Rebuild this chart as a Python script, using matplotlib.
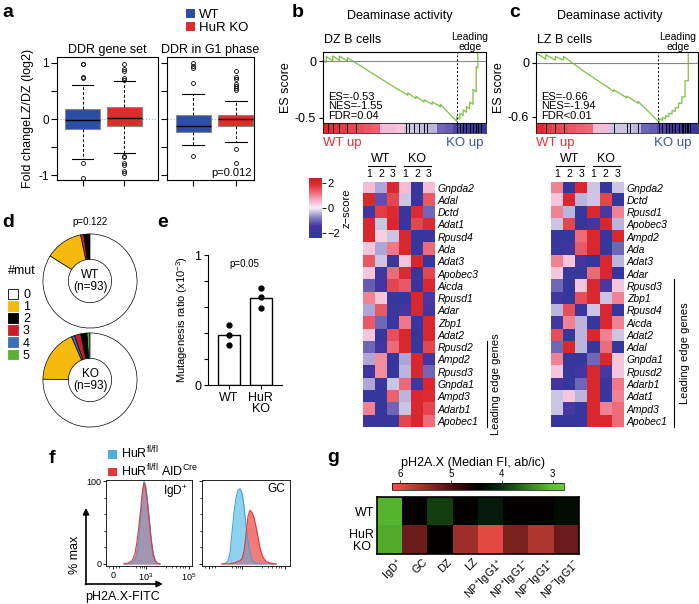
import numpy as np
import matplotlib
matplotlib.use('Agg')
import matplotlib.pyplot as plt
from matplotlib.colors import LinearSegmentedColormap
from matplotlib.patches import Patch
from matplotlib.transforms import ScaledTranslation

plt.rcParams['font.family'] = ['Liberation Sans', 'DejaVu Sans']
plt.rcParams['mathtext.fontset'] = 'custom'
plt.rcParams['mathtext.rm'] = 'Liberation Sans'
plt.rcParams['mathtext.it'] = 'Liberation Sans:italic'
plt.rcParams['mathtext.bf'] = 'Liberation Sans:bold'
plt.rcParams['font.size'] = 8
plt.rcParams['axes.linewidth'] = 0.8

W, H = 699, 604

# ---------------- data ----------------
# a: fold change LZ/DZ (box stats)
grp_names = ['WT', 'HuR KO']
grp_colors = ['#2D4EA5', '#E12A2A']
ddr_med = [-0.01, 0.01]
ddr_q1 = [-0.18, -0.12]
ddr_q3 = [0.17, 0.21]
ddr_lo = [-0.70, -0.60]
ddr_hi = [0.61, 0.67]
ddr_out = [[0.98, 0.97, 0.74, 0.72, -0.77, -1.05],
           [0.97, 0.88, 0.85, 0.72, 0.70, -0.65, -0.68, -0.78, -0.81, -0.92, -0.95]]
g1_med = [-0.12, 0.0]
g1_q1 = [-0.23, -0.12]
g1_q3 = [0.07, 0.08]
g1_lo = [-0.46, -0.40]
g1_hi = [0.45, 0.32]
g1_out = [[0.99, 0.94, 0.90, 0.64, -0.66],
          [0.86, 0.74, 0.71, 0.63, 0.59, 0.55, 0.51, -0.53, -0.77]]

# b / c: running enrichment score
esb_x = [0.00, 0.02, 0.02, 0.06, 0.06, 0.10, 0.10, 0.15, 0.15, 0.25, 0.35, 0.45,
         0.52, 0.52, 0.57, 0.57, 0.62, 0.62, 0.67, 0.67, 0.72, 0.72,
         0.82, 0.82, 0.84, 0.84, 0.86, 0.86, 0.88, 0.88, 0.90, 0.90, 0.92, 0.92, 0.94, 0.94, 0.95, 0.95]
esb_y = [0.00, -0.01, 0.04, 0.00, 0.045, 0.005, 0.045, 0.00, 0.03, -0.06, -0.15, -0.24,
         -0.30, -0.28, -0.33, -0.31, -0.36, -0.34, -0.38, -0.36, -0.40, -0.38,
         -0.53, -0.49, -0.51, -0.46, -0.48, -0.43, -0.45, -0.40, -0.42, -0.36, -0.38, -0.25, -0.27, -0.05, -0.06, 0.08]
esc_x = [0.00, 0.06, 0.06, 0.12, 0.12, 0.17, 0.17, 0.30, 0.45, 0.48, 0.48, 0.56, 0.56, 0.63, 0.63,
         0.76, 0.76, 0.78, 0.78, 0.80, 0.80, 0.82, 0.82, 0.84, 0.84, 0.86, 0.86, 0.88, 0.88,
         0.90, 0.90, 0.92, 0.92, 0.94, 0.94]
esc_y = [0.11, 0.04, 0.09, 0.03, 0.07, 0.03, 0.07, -0.10, -0.28, -0.32, -0.30, -0.39, -0.37, -0.45, -0.43,
         -0.66, -0.62, -0.64, -0.61, -0.62, -0.59, -0.60, -0.56, -0.57, -0.53, -0.54, -0.50, -0.50, -0.45,
         -0.45, -0.38, -0.38, -0.20, -0.20, 0.12]
hits_b = [0.03, 0.06, 0.10, 0.15, 0.20, 0.51, 0.53, 0.56, 0.59, 0.62, 0.64,
          0.82, 0.84, 0.86, 0.88, 0.90, 0.92, 0.94, 0.95, 0.97]
hits_c = [0.06, 0.12, 0.17, 0.48, 0.56, 0.58, 0.63, 0.76, 0.78, 0.80, 0.82, 0.84,
          0.86, 0.88, 0.90, 0.91, 0.92, 0.93, 0.94, 0.95]
strip_b = [1.9, 1.8, 1.7, 1.6, 1.5, 1.4, 1.3, 0.5, 0.5, 0.4, -0.3, -0.3, -0.35, -0.4,
           -1.0, -1.1, -1.3, -1.5, -1.7, -1.9]
strip_c = [1.9, 1.7, 1.6, 1.5, 1.4, 1.3, 1.2, 0.5, 0.5, -0.3, -0.3, -0.3, -0.4,
           -1.0, -1.1, -1.3, -1.5, -1.7, -1.8, -1.9]

reps = ['1', '2', '3', '1', '2', '3']
genes_b = ['Gnpda2', 'Adal', 'Dctd', 'Adat1', 'Rpusd4', 'Ada', 'Adat3', 'Apobec3', 'Aicda',
           'Rpusd1', 'Adar', 'Zbp1', 'Adat2', 'Rpusd2', 'Ampd2', 'Rpusd3', 'Gnpda1', 'Ampd3',
           'Adarb1', 'Apobec1']
z_b = [[0.5, -0.5, 2.0, 0.5, -2.0, 0.5],
       [2.0, -1.2, 1.6, -0.3, -2.0, 1.4],
       [-1.5, 1.7, 1.9, -2.0, 1.9, -1.0],
       [2.0, -0.3, 2.0, -2.0, 1.6, 1.9],
       [2.0, 0.3, -0.3, 2.0, -2.0, -1.8],
       [0.4, -0.5, 1.1, 2.0, -2.0, 1.2],
       [1.4, -0.3, -1.8, 0.4, 2.0, -2.0],
       [0.4, -1.5, 1.2, 1.9, -2.0, 1.6],
       [-1.1, -1.5, 1.6, 1.4, -2.0, 2.0],
       [1.0, 0.4, -1.9, -1.9, 2.0, -1.4],
       [-0.5, 1.4, -1.9, -1.5, 2.0, -1.5],
       [1.4, -1.0, -1.9, 1.1, -1.8, 2.0],
       [0.4, -2.0, 1.5, 2.0, -2.0, 2.0],
       [-1.0, -1.5, 1.2, 2.0, -2.0, 1.6],
       [-0.5, 0.9, -2.0, -0.5, 2.0, -1.5],
       [-1.6, 0.9, -2.0, -0.4, 2.0, -1.0],
       [-0.5, -2.0, -0.3, 1.2, -1.5, 2.0],
       [-2.0, -2.0, 1.3, -0.4, 2.0, 1.9],
       [1.0, -2.0, -1.0, -0.3, 2.0, 1.6],
       [-1.8, -1.8, -2.0, 1.6, 2.0, 1.2]]
genes_c = ['Gnpda2', 'Dctd', 'Rpusd1', 'Apobec3', 'Ampd2', 'Ada', 'Adat3', 'Adar', 'Rpusd3',
           'Zbp1', 'Rpusd4', 'Aicda', 'Adat2', 'Adal', 'Gnpda1', 'Rpusd2', 'Adarb1', 'Adat1',
           'Ampd3', 'Apobec1']
z_c = [[1.0, -2.0, 2.0, -0.3, -2.0, -0.3],
       [0.4, 2.0, -0.4, -0.3, 1.6, -2.0],
       [1.0, -0.4, -2.0, 2.0, -1.4, 1.0],
       [-0.3, 1.6, -2.0, -1.5, 2.0, -0.4],
       [-1.9, -2.0, 1.2, 2.0, -1.8, 2.0],
       [-1.9, -1.6, 1.4, 2.0, -2.0, -1.0],
       [1.0, 0.4, -1.5, -2.0, 2.0, -0.4],
       [0.4, -1.9, -1.9, 1.2, 2.0, -2.0],
       [-1.0, -2.0, 0.4, 2.0, -1.4, 0.4],
       [-1.5, -2.0, 1.5, 2.0, -0.3, 1.0],
       [-0.4, 1.5, -1.8, -0.3, 2.0, -2.0],
       [-1.5, 1.0, -0.4, -2.0, 2.0, 1.0],
       [1.5, -2.0, -0.4, 2.0, 1.0, -0.3],
       [-1.0, 2.0, -0.4, -1.8, 1.2, -2.0],
       [1.0, -2.0, -2.0, -1.0, 2.0, 0.4],
       [0.4, -2.0, -1.5, 2.0, -1.4, 0.4],
       [-1.5, -2.0, -1.0, 2.0, -1.8, 1.1],
       [-0.3, 0.4, -0.4, 2.0, -2.0, 1.0],
       [-0.3, -1.4, -2.0, 2.0, 1.0, 1.2],
       [-2.0, -2.0, -2.0, 2.0, 2.0, 1.2]]

# d: number of mutations per sequence
mut_labels = ['0', '1', '2', '3', '4', '5']
mut_colors = ['white', '#F6B90E', 'black', '#C8202A', '#3E70B8', '#5BB134']
wt_mut = [78, 12, 2, 1, 0, 0]
ko_mut = [70, 17, 2, 2, 1, 1]
wedge_order = [5, 2, 3, 4, 1, 0]

# e: mutagenesis ratio
e_groups = ['WT', 'HuR\nKO']
e_bars = [0.385, 0.67]
e_pts = [[0.46, 0.385, 0.31], [0.75, 0.68, 0.59]]

# f: flow histograms (channel vs % max)
igd_x = [18, 22, 25, 27, 29, 31, 33, 35, 36.5, 38, 39.5, 41, 43, 45, 47, 49, 51, 54]
igd_wt = [0, 0, 1, 2, 5, 12, 32, 62, 85, 100, 96, 82, 58, 33, 14, 5, 1, 0]
igd_ko = [0, 1, 3, 6, 13, 27, 47, 70, 88, 98, 92, 78, 55, 30, 12, 4, 1, 0]
gc_x = [20, 24, 26, 28, 30, 32, 34, 36, 38, 40, 42, 44, 46, 48, 50, 52, 54, 56, 58, 61, 64, 68, 74]
gc_wt = [0, 1, 4, 13, 38, 62, 80, 89, 91, 86, 70, 47, 27, 13, 5, 2, 1, 0, 0, 0, 0, 0, 0]
gc_ko = [0, 0, 0, 0, 1, 1, 2, 3, 4, 6, 15, 35, 58, 65, 62, 56, 45, 32, 19, 8, 3, 1, 0]

# g: pH2A.X median FI
g_cells = ['IgD$^{+}$', 'GC', 'DZ', 'LZ', 'NP$^{+}$IgG1$^{+}$', 'NP$^{+}$IgG1$^{-}$',
           'NP$^{-}$IgG1$^{+}$', 'NP$^{-}$IgG1$^{-}$']
g_rows = ['WT', 'HuR\nKO']
g_wt = [3.1, 4.5, 3.9, 4.5, 4.2, 4.5, 4.5, 4.35]
g_ko = [3.15, 5.2, 4.5, 5.55, 6.0, 5.3, 5.65, 5.2]

# ---------------- figure ----------------
fig = plt.figure(figsize=(W / 100, H / 100), dpi=100)


def px_axes(x0, y0, x1, y1, **kw):
    return fig.add_axes([x0 / W, 1 - y1 / H, (x1 - x0) / W, (y1 - y0) / H], **kw)


zcmap = LinearSegmentedColormap.from_list('z', [(0, '#2A3A9C'), (0.2, '#4535A0'), (0.35, '#8C88C8'),
                                                (0.5, '#F6F0F6'), (0.62, '#F5B5D0'), (0.75, '#EE6C7A'),
                                                (0.9, '#DD2A30'), (1.0, '#D01E26')])
gcmap = LinearSegmentedColormap.from_list('g', [(0, '#6CC832'), (0.07, '#5CC030'), (0.36, '#0A2E0E'),
                                                (0.5, '#000000'), (0.65, '#4A0E0E'), (0.95, '#E04A40'),
                                                (1.0, '#E85048')])

# ---- a ----
def boxes(ax, med, q1, q3, lo, hi, out):
    stats = [dict(med=med[i], q1=q1[i], q3=q3[i], whislo=lo[i], whishi=hi[i], fliers=out[i])
             for i in range(2)]
    bp = ax.bxp(stats, positions=[1, 2], widths=0.83, capwidths=0.52, patch_artist=True,
                boxprops=dict(edgecolor='#888888', linewidth=0.8),
                whiskerprops=dict(linestyle=(0, (3, 2)), linewidth=0.7),
                capprops=dict(linewidth=0.8),
                medianprops=dict(color='black', linewidth=1.0),
                flierprops=dict(marker='o', markersize=2.8, markerfacecolor='none',
                                markeredgecolor='black', markeredgewidth=0.6))
    for patch, c in zip(bp['boxes'], grp_colors):
        patch.set_facecolor(c)


a1 = px_axes(57, 57, 158, 180)
boxes(a1, ddr_med, ddr_q1, ddr_q3, ddr_lo, ddr_hi, ddr_out)
a1.set_xlim(0.39, 2.8)
a2 = px_axes(167, 57, 254, 180)
boxes(a2, g1_med, g1_q1, g1_q3, g1_lo, g1_hi, g1_out)
a2.set_xlim(0.38, 2.43)
for ax in (a1, a2):
    ax.set_ylim(-1.08, 1.1)
    ax.set_yticks([-1, -0.5, 0, 0.5, 1])
    ax.axhline(0, color='#8FB4D6', ls=':', lw=0.8, zorder=0)
    ax.set_xticks([1, 2])
    ax.set_xticklabels([])
    ax.tick_params(length=4, labelsize=8.5, pad=2)
a1.set_yticklabels(['-1', '', '0', '', '1'])
a2.set_yticklabels([])
a1.set_title('DDR gene set', fontsize=9, pad=3)
a2.set_title('DDR in G1 phase', fontsize=9, pad=3)
a1.set_ylabel('Fold changeLZ/DZ (log2)', fontsize=9, labelpad=3)
a2.text(0.98, 0.02, 'p=0.012', transform=a2.transAxes, ha='right', va='bottom', fontsize=8)
fig.legend(handles=[Patch(facecolor=c, edgecolor='none') for c in grp_colors], labels=grp_names,
           loc='upper left', bbox_to_anchor=(186 / W, 1 - 9 / H), frameon=False, fontsize=9.5,
           handlelength=0.7, handleheight=0.7, handletextpad=0.3, labelspacing=0.05,
           borderpad=0, borderaxespad=0)

# ---- b, c: GSEA ----
def gsea(x0, x1, ex, ey, ylim, yt, ytl, hits, strip, lead, stats):
    ax = px_axes(x0, 52, x1, 123)
    ax.plot(ex, ey, color='#7DC142', lw=0.9, clip_on=True)
    ax.axhline(0, color='#888888', lw=0.8)
    ax.axvline(lead, color='black', ls=(0, (2, 2)), lw=0.7)
    ax.set_xlim(0, 1)
    ax.set_ylim(*ylim)
    ax.set_xticks([])
    ax.set_yticks(yt)
    ax.set_yticklabels(ytl)
    ax.tick_params(length=3, labelsize=9, pad=2)
    ax.set_ylabel('ES score', fontsize=9, labelpad=2)
    ax.text(0.03, 0.03, stats, transform=ax.transAxes, fontsize=8, va='bottom', linespacing=0.95)
    sx = px_axes(x0, 123, x1, 133)
    sx.imshow([strip], aspect='auto', cmap=zcmap, vmin=-2.4, vmax=2.4, extent=(0, 1, 0, 1),
              interpolation='nearest')
    sx.vlines(hits, 0, 1, color='black', lw=0.7)
    sx.set_xlim(0, 1)
    sx.set_xticks([])
    sx.set_yticks([])
    for s in sx.spines.values():
        s.set_linewidth(0.5)
    return ax


gsea(323, 486, esb_x, esb_y, (-0.545, 0.08), [0, -0.5], ['0', '-0.5'], hits_b, strip_b, 0.82,
     'ES=-0.53\nNES=-1.55\nFDR=0.04')
gsea(536, 698, esc_x, esc_y, (-0.67, 0.12), [0, -0.6], ['0', '-0.6'], hits_c, strip_c, 0.75,
     'ES=-0.66\nNES=-1.94\nFDR<0.01')


def heat(x0, x1, genes, vals):
    ax = px_axes(x0, 181.5, x1, 427)
    im = ax.imshow(vals, cmap=zcmap, vmin=-2.4, vmax=2.4, aspect='auto', interpolation='nearest')
    ax.set_yticks(range(len(genes)))
    ax.set_yticklabels(genes, fontstyle='italic', fontsize=7.5)
    ax.yaxis.tick_right()
    ax.xaxis.tick_top()
    ax.set_xticks(range(6))
    ax.set_xticklabels(reps, fontsize=7.5)
    ax.tick_params(length=0, pad=2)
    for s in ax.spines.values():
        s.set_visible(False)
    return im


im_b = heat(363, 435, genes_b, z_b)
heat(551, 624, genes_c, z_c)
cax = px_axes(309, 178, 322, 238)
cb = fig.colorbar(im_b, cax=cax, ticks=[-2, 0, 2])
cb.outline.set_linewidth(0)
cax.set_yticklabels(['\u22122', '0', '2'], fontsize=8)
cax.tick_params(length=3, width=0.6, pad=1)
cax.set_ylabel('z\u2212score', fontsize=8, rotation=90, labelpad=1)

# ---- d: donuts ----
for box, counts, name in [((42, 233, 138, 329), wt_mut, 'WT'), ((42, 332, 138, 428), ko_mut, 'KO')]:
    ax = px_axes(*box)
    vals = [counts[i] for i in wedge_order if counts[i] > 0]
    cols = [mut_colors[i] for i in wedge_order if counts[i] > 0]
    ax.pie(vals, colors=cols, startangle=90, counterclock=True, radius=1,
           wedgeprops=dict(width=0.54, edgecolor='black', linewidth=0.5))
    ax.set_xlim(-1.02, 1.02)
    ax.set_ylim(-1.02, 1.02)
    ax.text(0, 0, name + '\n(n=93)', ha='center', va='center', fontsize=8.5, linespacing=1.0)
fig.legend(handles=[Patch(facecolor=c, edgecolor='black' if c == 'white' else c, linewidth=0.6)
                    for c in mut_colors], labels=mut_labels,
           loc='upper left', bbox_to_anchor=(8 / W, 1 - 289 / H), frameon=False, fontsize=9,
           handlelength=0.8, handleheight=0.8, handletextpad=0.4,
           labelspacing=0.0, borderpad=0, borderaxespad=0)

# ---- e: bars ----
e_ax = px_axes(208, 255, 282, 385)
e_ax.bar([1, 2], e_bars, width=0.7, color='white', edgecolor='black', linewidth=1.0)
for i, pts in enumerate(e_pts):
    e_ax.plot([i + 1] * len(pts), pts, 'o', color='black', ms=3.5)
e_ax.set_xlim(0.33, 2.68)
e_ax.set_ylim(0, 1)
e_ax.set_yticks([0, 0.2, 0.4, 0.6, 0.8, 1])
e_ax.set_yticklabels(['0', '', '', '', '', '1'])
e_ax.set_xticks([1, 2])
e_ax.set_xticklabels(e_groups, fontsize=9, linespacing=0.95)
e_ax.tick_params(length=3, labelsize=9, pad=2)
e_ax.spines['top'].set_visible(False)
e_ax.spines['right'].set_visible(False)
e_ax.set_ylabel('Mutagenesis ratio (x10$^{-3}$)', fontsize=8, labelpad=3)
e_ax.text(1.5, 0.93, 'p=0.05', ha='center', va='center', fontsize=7)

# ---- f: flow ----
f_blue, f_red, f_mix = '#8DD3F0', '#F27C7A', '#A295B2'
for box, x, yw, yk, label, lab_on in [((106, 480, 192, 566), igd_x, igd_wt, igd_ko, 'IgD$^{+}$', True),
                                       ((202, 480, 290, 566), gc_x, gc_wt, gc_ko, 'GC', False)]:
    ax = px_axes(*box)
    ax.fill_between(x, yw, color=f_blue, lw=0)
    ax.fill_between(x, yk, color=f_red, lw=0)
    ax.fill_between(x, np.minimum(yw, yk), color=f_mix, lw=0)
    ax.plot(x, yw, color='#3DA5DB', lw=0.8)
    ax.plot(x, yk, color='#E8362F', lw=0.8)
    ax.set_xlim(0, box[2] - box[0])
    ax.set_ylim(-2.5, 101.5)
    ax.set_xticks([7, 40, 83])
    ax.set_yticks([0, 100])
    ax.set_yticks([20, 40, 60, 80], minor=True)
    ax.set_xticks([3, 10, 13, 30, 34, 36, 38, 60, 66, 70, 74, 77, 79], minor=True)
    ax.tick_params(length=2.5, width=0.6, labelsize=6.5, pad=1)
    ax.tick_params(which='minor', length=1.5, width=0.5)
    if lab_on:
        ax.set_xticklabels(['0', '10$^{3}$', '10$^{5}$'])
        ax.set_yticklabels(['0', '100'])
    else:
        ax.set_xticklabels([])
        ax.set_yticklabels([])
    for s in ax.spines.values():
        s.set_linewidth(0.6)
    ax.text(0.95, 0.96, label, transform=ax.transAxes, ha='right', va='top', fontsize=8.5)
fig.legend(handles=[Patch(facecolor='#4FAEDD'), Patch(facecolor='#E33A34')],
           labels=['HuR$^{\\mathrm{fl/fl}}$', 'HuR$^{\\mathrm{fl/fl}}$ AID$^{\\mathrm{Cre}}$'],
           loc='upper left', bbox_to_anchor=(108 / W, 1 - 445 / H), frameon=False, fontsize=9,
           handlelength=0.7, handleheight=0.7, handletextpad=0.3, labelspacing=0.1,
           borderpad=0, borderaxespad=0)

# ---- g: heatmap ----
g_ax = px_axes(377, 497, 579, 554)
gim = g_ax.imshow([g_wt, g_ko], cmap=gcmap, vmin=2.78, vmax=6.16, aspect='auto',
                  interpolation='nearest')
g_ax.set_yticks([0, 1])
g_ax.set_yticklabels(g_rows, fontsize=9, linespacing=1.0, multialignment='center')
g_ax.set_xticks(range(len(g_cells)))
g_ax.set_xticklabels(g_cells, fontsize=7.8, rotation=45, ha='right', va='top',
                     rotation_mode='anchor')
g_ax.tick_params(length=0, pad=2)
for lab in g_ax.get_xticklabels():
    lab.set_transform(lab.get_transform() + ScaledTranslation(7 / 100, 0, fig.dpi_scale_trans))
for s in g_ax.spines.values():
    s.set_linewidth(1.2)
gcax = px_axes(392, 483, 564, 490)
gcb = fig.colorbar(gim, cax=gcax, orientation='horizontal', ticks=[6, 5, 4, 3])
gcb.outline.set_linewidth(0.5)
gcax.invert_xaxis()
gcax.xaxis.set_ticks_position('top')
gcax.tick_params(length=2, width=0.5, labelsize=7, pad=1)

# ---- overlay annotations (pixel coords) ----
ov = fig.add_axes([0, 0, 1, 1], zorder=10)
ov.set_xlim(0, W)
ov.set_ylim(H, 0)
ov.axis('off')
for x, y, s in [(2, 17, 'a'), (292, 17, 'b'), (509, 17, 'c'), (2, 227, 'd'), (157, 227, 'e'),
                (49, 463, 'f'), (327, 462, 'g')]:
    ov.text(x, y, s, fontsize=14, fontweight='bold', va='baseline', ha='left')

ov.text(400, 16, 'Deaminase activity', fontsize=9, ha='center', va='center')
ov.text(610, 16, 'Deaminase activity', fontsize=9, ha='center', va='center')
ov.text(324, 40, 'DZ B cells', fontsize=9, ha='left', va='center')
ov.text(537, 40, 'LZ B cells', fontsize=9, ha='left', va='center')
for xc in (470, 678):
    ov.text(xc, 42, 'Leading\nedge', fontsize=7.5, ha='center', va='center', linespacing=0.95)
for x0, x1 in ((323, 486), (536, 694)):
    ov.text(x0, 143, 'WT up', color='#E8303A', fontsize=9.5, ha='left', va='center')
    ov.text(x1 - 3, 143, 'KO up', color='#3A55B0', fontsize=9.5, ha='right', va='center')

# heatmap headers and leading edge brackets
for hx0, hx1, cw in ((363, 435, 12.0), (551, 624, 12.17)):
    for k, lab in enumerate(['WT', 'KO']):
        xa = hx0 + k * 3 * cw
        ov.text(xa + 1.5 * cw, 159, lab, fontsize=9, ha='center', va='center')
        ov.plot([xa + 5, xa + 3 * cw - 4], [166, 166], color='black', lw=0.8)
for lx, ytop, tx in ((487, 341, 496), (674, 279, 685)):
    ov.plot([lx, lx], [ytop, 427], color='black', lw=0.8)
    ov.text(tx, (ytop + 427) / 2, 'Leading edge genes', rotation=90, fontsize=8,
            ha='center', va='center')

ov.text(90, 222, 'p=0.122', fontsize=7, ha='center', va='center')
ov.text(8, 271, '#mut', fontsize=9, ha='left', va='center')

# f axis arrows
ov.annotate('', xy=(163, 584), xytext=(85.4, 584),
            arrowprops=dict(arrowstyle='-|>', lw=1.2, color='black', mutation_scale=9,
                            shrinkA=0, shrinkB=0))
ov.annotate('', xy=(86, 508), xytext=(86, 584.6),
            arrowprops=dict(arrowstyle='-|>', lw=1.2, color='black', mutation_scale=9,
                            shrinkA=0, shrinkB=0))
ov.text(75, 555, '% max', rotation=90, fontsize=9, ha='center', va='center')
ov.text(123, 597, 'pH2A.X-FITC', fontsize=9, ha='center', va='center')
ov.text(473, 463, 'pH2A.X (Median FI, ab/ic)', fontsize=9, ha='center', va='center')

fig.savefig('out.png', dpi=100)
